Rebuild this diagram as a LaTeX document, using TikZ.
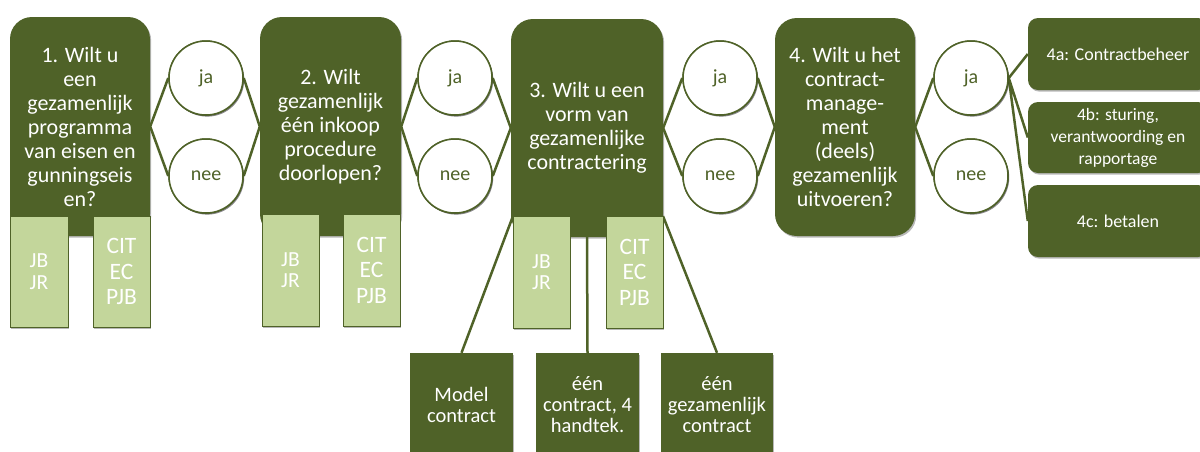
\documentclass[tikz,border=0pt]{standalone}
\usepackage{fontspec}
\setmainfont{Carlito}
\usetikzlibrary{shadows}
\definecolor{olive}{HTML}{4F6228}
\definecolor{lolive}{HTML}{C3D69B}
\tikzset{
  shd/.style={drop shadow={shadow xshift=1.2pt,shadow yshift=-1.6pt,opacity=0.28,fill=black}},
  bigq/.style={fill=olive,rounded corners=22pt,inner sep=0pt,text=white,align=center,
     font=\fontsize{22}{24}\selectfont,shd},
  side/.style={fill=lolive,draw=olive,line width=0.8pt,inner sep=0pt,text=white,align=center,shd},
  sidel/.style={side,font=\fontsize{21.5}{21.5}\selectfont},
  sider/.style={side,font=\fontsize{23.5}{25.5}\selectfont},
  ans/.style={circle,draw=olive,line width=1.5pt,fill=white,minimum size=74pt,inner sep=0pt,
     text=olive,font=\fontsize{20}{24}\selectfont,shd},
  sub/.style={fill=olive,rounded corners=10pt,inner sep=0pt,text=white,align=center,
     minimum width=180pt,font=\fontsize{18}{22}\selectfont,shd},
  bot/.style={fill=olive,inner sep=0pt,text=white,align=center,minimum height=104pt,
     font=\fontsize{20.5}{21}\selectfont,shd},
  conn/.style={draw=olive,line width=2.5pt},
}
\begin{document}
\begin{tikzpicture}[x=1pt,y=-1pt]
\useasboundingbox (0,0) rectangle (1200,451);
\clip (0,0) rectangle (1200,451);
% question boxes
\node[bigq,minimum width=140pt,minimum height=219pt] (b1) at (80,126.5)
  {1. Wilt u\\een\\gezamenlijk\\programma\\van eisen en\\gunningseis\\en?};
\node[sidel,minimum width=58pt,minimum height=111pt] (l1) at (39,271.5) {JB\\JR};
\node[sider,minimum width=57pt,minimum height=111pt] (r1) at (121.5,271.5) {CIT\\EC\\PJB};
\node[bigq,minimum width=141pt,minimum height=219pt] (b2) at (330.5,126.5)
  {2. Wilt\\gezamenlijk\\één inkoop\\procedure\\doorlopen?};
\node[sidel,minimum width=57pt,minimum height=112pt] (l2) at (290.5,270) {JB\\JR};
\node[sider,minimum width=57pt,minimum height=112pt] (r2) at (371.5,270) {CIT\\EC\\PJB};
\node[bigq,minimum width=152pt,minimum height=218pt] (b3) at (587,128)
  {3. Wilt u een\\vorm van\\gezamenlijke\\contractering};
\node[bigq,minimum width=140pt,minimum height=218pt] (b4) at (845,127)
  {4. Wilt u het\\contract-\\manage-\\ment\\(deels)\\gezamenlijk\\uitvoeren?};
% sub-answers
\node[sub,minimum height=72pt] (s4a) at (1118,54) {4a: Contractbeheer};
\node[sub,minimum height=71pt,font=\fontsize{17.5}{22}\selectfont] (s4b) at (1118,137.5) {4b: sturing,\\verantwoording en\\rapportage};
\node[sub,minimum height=72pt] (s4c) at (1118,221) {4c: betalen};
\node[bot,minimum width=103pt] (m1) at (461.5,405) {Model\\contract};
\node[bot,minimum width=103pt] (m2) at (587.5,405) {één\\contract, 4\\handtek.};
\node[bot,minimum width=112pt] (m3) at (717,405) {één\\gezamenlijk\\contract};
\coordinate (l3nw) at (513,216);
\coordinate (r3ne) at (663,216);
% circles (positions)
\coordinate (ja1) at (206,78);
\coordinate (nee1) at (206,176);
\coordinate (ja2) at (455,78);
\coordinate (nee2) at (455,176);
\coordinate (ja3) at (720,78);
\coordinate (nee3) at (720,176);
\coordinate (ja4) at (971,78);
\coordinate (nee4) at (971,176);
\node[ans] (cja1) at (ja1) {ja};
\node[ans] (cnee1) at (nee1) {nee};
\node[ans] (cja2) at (ja2) {ja};
\node[ans] (cnee2) at (nee2) {nee};
\node[ans] (cja3) at (ja3) {ja};
\node[ans] (cnee3) at (nee3) {nee};
\node[ans] (cja4) at (ja4) {ja};
\node[ans] (cnee4) at (nee4) {nee};
% connectors
\draw[conn] (b1.east) -- (cja1.west) (b1.east) -- (cnee1.west);
\draw[conn] (cja1.east) -- (b2.west) (cnee1.east) -- (b2.west);
\draw[conn] (b2.east) -- (cja2.west) (b2.east) -- (cnee2.west);
\draw[conn] (cja2.east) -- (b3.west) (cnee2.east) -- (b3.west);
\draw[conn] (b3.east) -- (cja3.west) (b3.east) -- (cnee3.west);
\draw[conn] (cja3.east) -- (b4.west) (cnee3.east) -- (b4.west);
\draw[conn] (b4.east) -- (cja4.west) (b4.east) -- (cnee4.west);
\draw[conn] (cja4.east) -- (s4a.west) (cja4.east) -- (s4b.west) (cja4.east) -- (s4c.west);
\draw[conn] (l3nw) -- (m1.north) (b3.south) -- (m2.north) (r3ne) -- (m3.north);
% circles redrawn over the connector ends
\node[ans] at (ja1) {ja};
\node[ans] at (nee1) {nee};
\node[ans] at (ja2) {ja};
\node[ans] at (nee2) {nee};
\node[ans] at (ja3) {ja};
\node[ans] at (nee3) {nee};
\node[ans] at (ja4) {ja};
\node[ans] at (nee4) {nee};
\node[sidel,minimum width=57pt,minimum height=112pt] (l3) at (541.5,272) {JB\\JR};
\node[sider,minimum width=57pt,minimum height=112pt] (r3) at (634.5,272) {CIT\\EC\\PJB};
\end{tikzpicture}
\end{document}
